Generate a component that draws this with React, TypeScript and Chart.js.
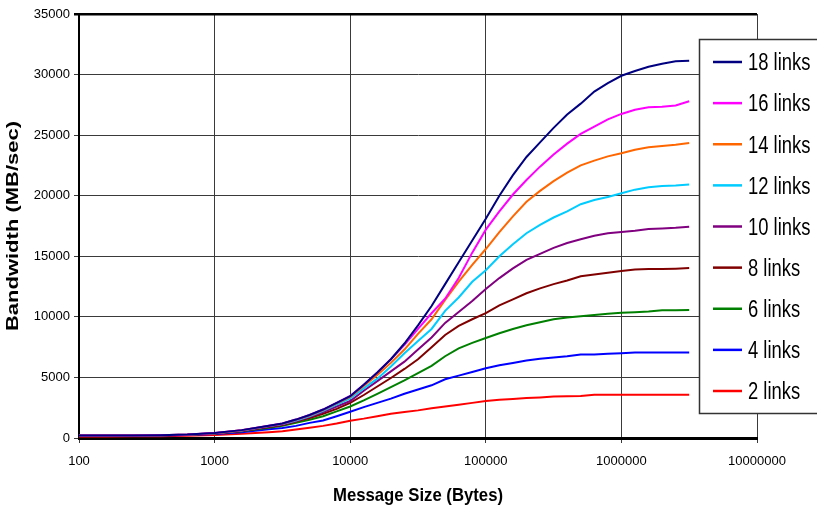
import { useEffect, useRef } from "react";
import { Chart, registerables } from "chart.js";

Chart.register(...registerables);

// Message sizes in bytes (x values)
const messageSizes = [
  100, 158, 251, 398, 631, 1000, 1585, 2512, 3162, 3981, 5012, 6310, 7943,
  10000, 12589, 15849, 19953, 25119, 31623, 39811, 50119, 63096, 79433,
  100000, 125893, 158489, 199526, 251189, 316228, 398107, 501187, 630957,
  794328, 1000000, 1258925, 1584893, 1995262, 2511886, 3162278,
];

// Bandwidth (MB/sec) for each link count
const links18 = [
  200, 200, 210, 230, 280, 410, 650, 1020, 1200, 1520, 1900, 2350, 2900, 3450,
  4400, 5400, 6500, 7800, 9300, 10900, 12700, 14500, 16300, 18100,
  20000, 21700, 23200, 24400, 25600, 26700, 27600, 28600, 29300, 29900,
  30300, 30650, 30900, 31100, 31150,
];
const links16 = [
  200, 200, 210, 230, 280, 410, 650, 1020, 1200, 1520, 1900, 2350, 2900, 3470,
  4400, 5400, 6500, 7700, 9000, 10300, 11500, 13200, 15300, 17200,
  18700, 20100, 21300, 22400, 23400, 24300, 25100, 25700, 26300, 26750,
  27100, 27300, 27350, 27450, 27800,
];
const links14 = [
  200, 200, 210, 230, 280, 400, 640, 1000, 1180, 1500, 1850, 2300, 2850, 3400,
  4300, 5200, 6200, 7300, 8600, 9800, 11400, 12900, 14300, 15600,
  17000, 18300, 19500, 20400, 21200, 21900, 22500, 22900, 23250, 23500,
  23800, 24000, 24100, 24200, 24360,
];
const links12 = [
  200, 200, 210, 230, 280, 400, 620, 980, 1150, 1450, 1800, 2250, 2750, 3270,
  4100, 4900, 5900, 7000, 8000, 9000, 10500, 11600, 12900, 13850,
  15000, 16000, 16900, 17600, 18200, 18700, 19300, 19650, 19900, 20200,
  20500, 20700, 20800, 20850, 20930,
];
const links10 = [
  200, 200, 210, 230, 270, 400, 600, 950, 1120, 1400, 1750, 2150, 2600, 3050,
  3900, 4700, 5500, 6300, 7300, 8300, 9500, 10400, 11300, 12300,
  13200, 14000, 14700, 15200, 15700, 16100, 16400, 16700, 16900, 17000,
  17100, 17250, 17300, 17350, 17430,
];
const links8 = [
  180, 180, 190, 210, 260, 380, 580, 900, 1070, 1350, 1650, 2000, 2400, 2900,
  3550, 4250, 4950, 5700, 6500, 7500, 8500, 9250, 9800, 10300,
  10950, 11450, 11950, 12350, 12700, 13000, 13350, 13500, 13650, 13780,
  13900, 13950, 13950, 13980, 14025,
];
const links6 = [
  230, 220, 220, 230, 270, 380, 560, 850, 1000, 1250, 1500, 1800, 2200, 2600,
  3100, 3650, 4200, 4750, 5350, 5950, 6750, 7400, 7850, 8250,
  8650, 9000, 9300, 9550, 9800, 9950, 10050, 10150, 10250, 10330,
  10380, 10450, 10550, 10550, 10560,
];
const links4 = [
  180, 180, 190, 200, 240, 330, 480, 720, 830, 1000, 1250, 1450, 1800, 2170,
  2550, 2900, 3250, 3650, 4000, 4350, 4850, 5150, 5450, 5750,
  6000, 6200, 6400, 6550, 6650, 6750, 6900, 6900, 6950, 7000,
  7050, 7050, 7050, 7050, 7050,
];
const links2 = [
  120, 130, 140, 150, 180, 250, 350, 480, 560, 700, 850, 1000, 1200, 1430,
  1600, 1800, 2000, 2150, 2280, 2450, 2600, 2750, 2900, 3050,
  3150, 3220, 3300, 3350, 3420, 3450, 3460, 3560, 3560, 3560,
  3560, 3560, 3560, 3560, 3560,
];

const seriesLabels = [
  "18 links", "16 links", "14 links", "12 links", "10 links",
  "8 links", "6 links", "4 links", "2 links",
];
const seriesValues = [links18, links16, links14, links12, links10, links8, links6, links4, links2];
const seriesColors = [
  "#000080", "#FF00FF", "#FF6600", "#00CCFF", "#800080",
  "#800000", "#008000", "#0000FF", "#FF0000",
];

const xTickValues = [100, 1000, 10000, 100000, 1000000, 10000000];
const yMin = 0;
const yMax = 35000;
const yStep = 5000;
const xTitle = "Message Size (Bytes)";
const yTitle = "Bandwidth (MB/sec)";

const FONT = '"Liberation Sans", Arial, Helvetica, sans-serif';

const overlayPlugin = {
  id: "overlay",
  afterDraw(chart: any) {
    const { ctx, chartArea } = chart;
    // X axis title
    ctx.save();
    ctx.fillStyle = "#000";
    ctx.font = `bold 19px ${FONT}`;
    ctx.textAlign = "center";
    ctx.textBaseline = "alphabetic";
    ctx.translate((chartArea.left + chartArea.right) / 2, chartArea.bottom + 63);
    ctx.scale(0.88, 1);
    ctx.fillText(xTitle, 0, 0);
    ctx.restore();

    // Y axis title
    ctx.save();
    ctx.fillStyle = "#000";
    ctx.font = `bold 22px ${FONT}`;
    ctx.textAlign = "center";
    ctx.textBaseline = "alphabetic";
    ctx.translate(chartArea.left - 61, (chartArea.top + chartArea.bottom) / 2);
    ctx.rotate(-Math.PI / 2);
    ctx.scale(1, 0.76);
    ctx.fillText(yTitle, 0, 0);
    ctx.restore();

    // Legend box
    const boxLeft = chartArea.right - 58;
    const boxTop = chartArea.top + 25;
    const boxBottom = chartArea.bottom - 25;
    ctx.save();
    ctx.fillStyle = "#fff";
    ctx.fillRect(boxLeft, boxTop, 200, boxBottom - boxTop);
    ctx.strokeStyle = "#333";
    ctx.lineWidth = 1.5;
    ctx.strokeRect(boxLeft + 0.5, boxTop + 0.5, 200, boxBottom - boxTop);
    const datasets = chart.data.datasets;
    const rowGap = (boxBottom - boxTop - 45) / (datasets.length - 1);
    datasets.forEach((ds: any, i: number) => {
      const y = boxTop + 23 + i * rowGap;
      ctx.strokeStyle = ds.borderColor;
      ctx.lineWidth = 2.5;
      ctx.beginPath();
      ctx.moveTo(boxLeft + 14, y);
      ctx.lineTo(boxLeft + 43, y);
      ctx.stroke();
      ctx.save();
      ctx.fillStyle = "#000";
      ctx.font = `23px ${FONT}`;
      ctx.textAlign = "left";
      ctx.textBaseline = "alphabetic";
      ctx.translate(boxLeft + 49, y + 8.3);
      ctx.scale(0.8, 1);
      ctx.fillText(ds.label, 0, 0);
      ctx.restore();
    });
    ctx.restore();
  },
};

export default function App() {
  const canvasRef = useRef<HTMLCanvasElement | null>(null);

  useEffect(() => {
    if (!canvasRef.current) return;
    const datasets = seriesLabels.map((label, s) => ({
      label,
      data: messageSizes.map((x, i) => ({ x, y: seriesValues[s][i] })),
      borderColor: seriesColors[s],
      backgroundColor: seriesColors[s],
      borderWidth: 2,
      pointRadius: 0,
      fill: false,
      tension: 0,
    }));

    const chart = new Chart(canvasRef.current, {
      type: "line",
      data: { datasets },
      plugins: [overlayPlugin],
      options: {
        animation: false,
        responsive: false,
        devicePixelRatio: 1,
        layout: { padding: { top: 14, right: 60, left: 0, bottom: 0 } },
        plugins: {
          legend: { display: false },
          tooltip: { enabled: false },
          title: { display: false },
        },
        scales: {
          x: {
            type: "logarithmic",
            min: 100,
            max: 10000000,
            afterBuildTicks: (scale: any) => {
              scale.ticks = xTickValues.map((v) => ({ value: v }));
            },
            afterFit: (scale: any) => {
              scale.height = 71;
            },
            ticks: {
              autoSkip: false,
              maxRotation: 0,
              padding: 11,
              color: "#000",
              font: { family: FONT, size: 13 },
              callback: (v: any) => String(v),
            },
            grid: { color: "#3a3a3a", lineWidth: 1, tickLength: 5, drawTicks: true },
            border: { color: "#000", width: 3 },
          },
          y: {
            type: "linear",
            min: yMin,
            max: yMax,
            afterFit: (scale: any) => {
              scale.width = 79;
            },
            ticks: {
              stepSize: yStep,
              padding: 4,
              color: "#000",
              font: { family: FONT, size: 13 },
              callback: (v: any) => String(v),
            },
            grid: {
              color: (c: any) => (c.tick && c.tick.value === yMax ? "#000" : "#3a3a3a"),
              lineWidth: (c: any) => (c.tick && c.tick.value === yMax ? 2.5 : 1),
              tickLength: 5,
              drawTicks: true,
            },
            border: { color: "#000", width: 2 },
          },
        },
      } as any,
    });
    return () => chart.destroy();
  }, []);

  return (
    <div style={{ position: "absolute", left: 0, top: 0, width: 817, height: 509, background: "#fff" }}>
      <canvas ref={canvasRef} width={817} height={509} style={{ display: "block" }} />
    </div>
  );
}
